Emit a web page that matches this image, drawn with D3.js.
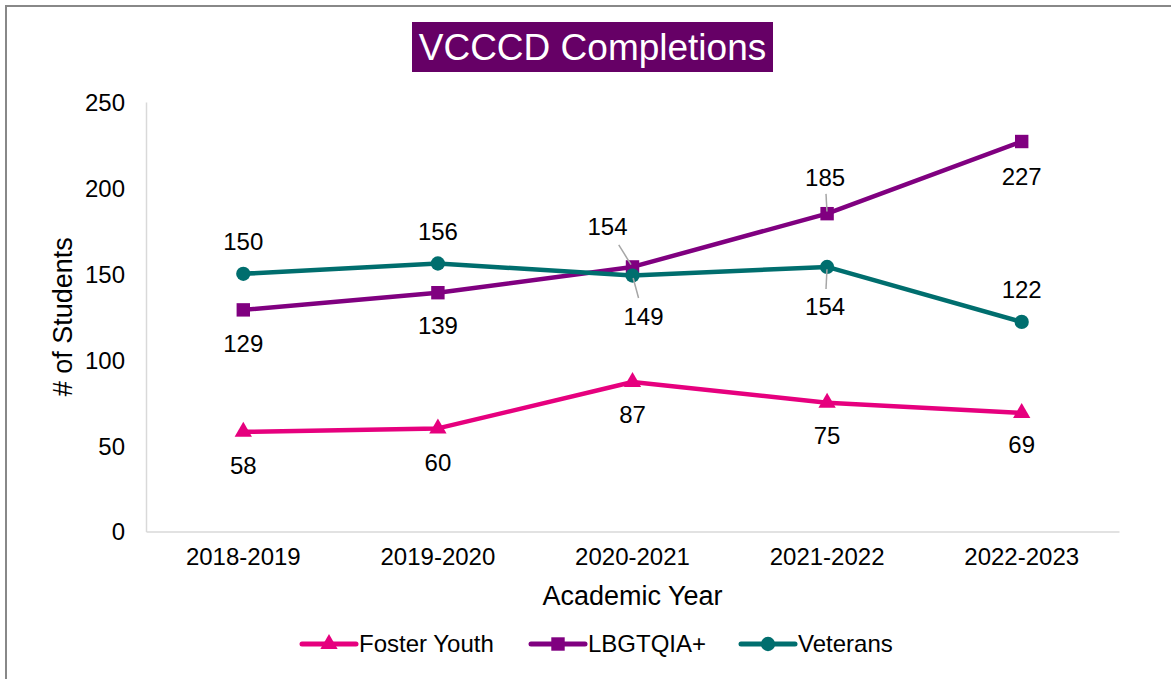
<!DOCTYPE html>
<html>
<head>
<meta charset="utf-8">
<script src="https://cdn.jsdelivr.net/npm/d3@7"></script>
<style>
  body { margin: 0; background: #fff; }
  text { font-family: "Liberation Sans", Arial, sans-serif; }
</style>
</head>
<body>
<div id="chart"></div>
<script>
// values
var years = ['2018-2019', '2019-2020', '2020-2021', '2021-2022', '2022-2023'];
var fosterYouth = [58, 60, 87, 75, 69];
var lbgtqia = [129, 139, 154, 185, 227];
var veterans = [150, 156, 149, 154, 122];
var yTicks = [0, 50, 100, 150, 200, 250];

var seriesNames = ['Foster Youth', 'LBGTQIA+', 'Veterans'];
var seriesValues = [fosterYouth, lbgtqia, veterans];
var seriesColors = ['#e6007e', '#800080', '#006e6e'];
var seriesMarkers = [d3.symbolTriangle, d3.symbolSquare, d3.symbolCircle];

// where each data label sits relative to its point [dx, dy, leader line?]
var labelPlace = [
  [[0, 34], [0, 34], [0, 33], [0, 33], [0, 32]],
  [[0, 34], [0, 33], [-25, -40, 1], [-2, -36, 1], [0, 35]],
  [[0, -32], [0, -32], [11, 41, 1], [-2, 40, 1], [0, -32]]
];

var width = 1171, height = 679;
var margin = {left: 146, right: 52, top: 102, bottom: 148};

var svg = d3.select('#chart').append('svg')
  .attr('width', width)
  .attr('height', height);

// outer frame (only top and left show)
svg.append('path')
  .attr('d', 'M6,' + height + 'V6H' + width)
  .attr('fill', 'none')
  .attr('stroke', '#888')
  .attr('stroke-width', 2);

var x = d3.scaleBand()
  .domain(years)
  .range([margin.left, width - margin.right]);

var y = d3.scaleLinear()
  .domain([0, 250])
  .range([height - margin.bottom + 0.5, margin.top]);

// title
var title = svg.append('g');
title.append('rect')
  .attr('x', 412).attr('y', 22)
  .attr('width', 361).attr('height', 50)
  .attr('fill', '#660066');
title.append('text')
  .attr('x', 592.5).attr('y', 47)
  .attr('dy', '0.36em')
  .attr('text-anchor', 'middle')
  .attr('fill', '#fff')
  .style('font-size', '37px')
  .text('VCCCD Completions');

// axes
var yAxis = svg.append('g')
  .attr('transform', 'translate(' + margin.left + ',0)')
  .call(d3.axisLeft(y).tickValues(yTicks).tickSize(0).tickPadding(21));
var xAxis = svg.append('g')
  .attr('transform', 'translate(0,' + y(0) + ')')
  .call(d3.axisBottom(x).tickSize(0).tickPadding(16));

[yAxis, xAxis].forEach(function(g) {
  g.select('.domain').attr('stroke', '#d9d9d9').attr('stroke-width', 1.5);
  g.selectAll('.tick text')
    .attr('fill', '#000')
    .style('font-size', '24px')
    .style('font-family', '"Liberation Sans", Arial, sans-serif');
});
yAxis.selectAll('.tick text').attr('dy', '0.35em');

svg.append('text')
  .attr('transform', 'translate(63,' + y(125) + ') rotate(-90)')
  .attr('text-anchor', 'middle')
  .attr('dy', '0.35em')
  .style('font-size', '27px')
  .text('# of Students');

svg.append('text')
  .attr('x', (x.range()[0] + x.range()[1]) / 2)
  .attr('y', 596)
  .attr('dy', '0.35em')
  .attr('text-anchor', 'middle')
  .style('font-size', '27px')
  .text('Academic Year');

var line = d3.line()
  .x(function(d, i) { return x(years[i]) + x.bandwidth() / 2; })
  .y(function(d) { return y(d); });

var symSize = [130, 180, 160];

seriesValues.forEach(function(vals, s) {
  var g = svg.append('g');
  g.append('path')
    .datum(vals)
    .attr('d', line)
    .attr('fill', 'none')
    .attr('stroke', seriesColors[s])
    .attr('stroke-width', 4.5)
    .attr('stroke-linejoin', 'round');

  g.selectAll('path.mk')
    .data(vals)
    .enter()
    .append('path')
    .attr('class', 'mk')
    .attr('transform', function(d, i) {
      return 'translate(' + (x(years[i]) + x.bandwidth() / 2) + ',' + y(d) + ')';
    })
    .attr('d', d3.symbol().type(seriesMarkers[s]).size(symSize[s]))
    .attr('fill', seriesColors[s]);
});

// data labels and leader lines
seriesValues.forEach(function(vals, s) {
  vals.forEach(function(v, i) {
    var px = x(years[i]) + x.bandwidth() / 2, py = y(v);
    var p = labelPlace[s][i];
    var lx = px + p[0], ly = py + p[1];
    if (p[2]) {
      svg.append('line')
        .attr('x1', px + (lx - px) * 0.06).attr('y1', py + (ly - py) * 0.06)
        .attr('x2', px + (lx - px) * 0.55).attr('y2', py + (ly - py) * 0.55)
        .attr('stroke', '#a6a6a6')
        .attr('stroke-width', 1.5);
    }
    svg.append('text')
      .attr('x', lx).attr('y', ly)
      .attr('dy', '0.35em')
      .attr('text-anchor', 'middle')
      .style('font-size', '24px')
      .text(v);
  });
});

// legend
var legendX = [302, 531, 741];
var legend = svg.append('g').attr('transform', 'translate(0,644)');
seriesNames.forEach(function(name, s) {
  var lg = legend.append('g').attr('transform', 'translate(' + legendX[s] + ',0)');
  lg.append('line')
    .attr('x1', 0).attr('x2', 54)
    .attr('stroke', seriesColors[s])
    .attr('stroke-width', 5)
    .attr('stroke-linecap', 'round');
  lg.append('path')
    .attr('transform', 'translate(27,0)')
    .attr('d', d3.symbol().type(seriesMarkers[s]).size(symSize[s]))
    .attr('fill', seriesColors[s]);
  lg.append('text')
    .attr('x', 57)
    .attr('dy', '0.35em')
    .style('font-size', '24px')
    .text(name);
});
</script>
</body>
</html>
